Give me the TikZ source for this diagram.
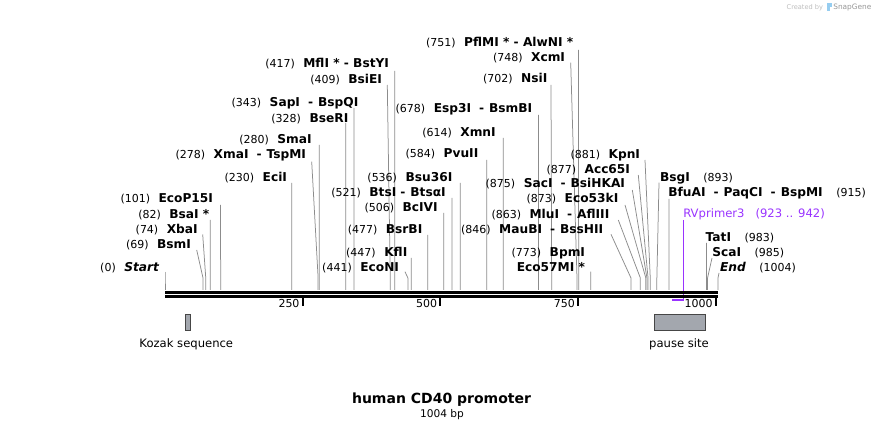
\documentclass[tikz,border=0pt]{standalone}
\usepackage{fontspec}
\setmainfont{DejaVu Sans}
\usetikzlibrary{calc}
\definecolor{cutgray}{RGB}{140,140,140}
\definecolor{primer}{RGB}{153,51,255}
\definecolor{featfill}{RGB}{163,167,174}
\definecolor{featdraw}{RGB}{70,70,70}
\definecolor{wmgray}{RGB}{190,190,190}
\definecolor{wmblue}{RGB}{150,205,240}
\newcommand\numf{\fontsize{11}{13}\selectfont\mdseries\upshape}
\newcommand\enzf{\fontsize{12.2}{14}\selectfont\bfseries}
\newcommand\rvf{\fontsize{11.6}{14}\selectfont\mdseries}
\newcommand\hy{\hspace{8pt}-\hspace{5pt}}
\newcommand\hs{\hspace{4pt}-\hspace{5pt}}
\newcommand\LLab[5]{\node[lbl,anchor=base east] (#1) at (#2,{#3+4.4}) {{\numf(#4)}\hspace{8.5pt}{\enzf #5}};}
\newcommand\RLab[5]{\node[lbl,anchor=base west] (#1) at (#2,{#3+4.4}) {{\enzf #5}\hspace{13.5pt}{\numf(#4)}};}
\newcommand\Cut[4]{%
  \coordinate (t-#1) at (#2,#3);
  \coordinate (k-#1) at ({165+#4*0.5508},278);
  \coordinate (s-#1) at ({165+#4*0.5508},290);
  \draw[cut] (t-#1) -- (k-#1) -- (s-#1);}
\tikzset{
  lbl/.style={inner sep=0pt, outer sep=0pt},
  cut/.style={draw=cutgray, line width=0.75pt},
  tickmark/.style={draw=black, line width=2pt},
  ticklab/.style={inner sep=0pt, anchor=base east, font=\numf},
  feat/.style={fill=featfill, draw=featdraw, line width=0.9pt},
  featlab/.style={inner sep=0pt, anchor=base, font=\fontsize{11.6}{14}\selectfont}
}
\begin{document}
\begin{tikzpicture}[x=1pt,y=-1pt]
\path[use as bounding box, fill=white] (0,0) rectangle (884,430);

% watermark
\node[lbl, anchor=west, text=wmgray, font=\fontsize{6.6}{8}\selectfont] (wm1) at (786.7,7.5) {Created by};
\fill[wmblue] (826.5,3.5) rectangle (829.5,11.5);
\fill[wmblue] (829.5,3.5) rectangle (831.5,7);
\node[lbl, anchor=west, text=wmgray!80!black, font=\fontsize{7.4}{9}\selectfont] (wm2) at (833.3,7.5) {SnapGene};

% cut site connectors
\Cut{Start}{165}{272}{0}
\Cut{BsmI}{196.7}{250}{69}
\Cut{XbaI}{202.7}{234.5}{74}
\Cut{BsaI}{210.2}{220}{82}
\Cut{EcoP}{220.6}{205}{101}
\Cut{EciI}{291.7}{183}{230}
\Cut{XmaI}{311.7}{161.7}{278}
\Cut{SmaI}{319.2}{145}{280}
\Cut{BseRI}{345.7}{123}{328}
\Cut{SapI}{353.9}{108}{343}
\Cut{BsiEI}{387.3}{85}{409}
\Cut{MflI}{394.7}{71}{417}
\Cut{EcoNI}{405}{271.7}{441}
\Cut{KflI}{411.2}{258}{447}
\Cut{BsrBI}{427.7}{235}{477}
\Cut{BcIVI}{443.7}{213}{506}
\Cut{BtsI}{452}{198}{521}
\Cut{Bsu}{460.2}{183}{536}
\Cut{PvuII}{486.7}{160}{584}
\Cut{XmnI}{503.2}{138}{614}
\Cut{Esp}{538.4}{115}{678}
\Cut{NsiI}{551}{85}{702}
\Cut{XcmI}{570.7}{62.7}{748}
\Cut{PflMI}{578.5}{50}{751}
\Cut{BpmI}{590.8}{271.7}{773}
\Cut{MauBI}{611}{234.3}{846}
\Cut{MluI}{618.3}{220}{863}
\Cut{Eco53}{625}{205}{873}
\Cut{SacI}{632.3}{190}{875}
\Cut{Acc}{638.3}{175}{877}
\Cut{KpnI}{645}{160}{881}
\Cut{BsgI}{659}{182.7}{893}
\Cut{BfuAI}{669}{199}{915}
\Cut{TatI}{706.4}{243}{983}
\Cut{ScaI}{712}{258}{985}
\Cut{End}{719}{273}{1004}

% labels, left side
\LLab{Start}{159}{267}{0}{\itshape Start}
\LLab{BsmI}{191}{244}{69}{BsmI}
\LLab{XbaI}{197.7}{229}{74}{XbaI}
\LLab{BsaI}{209.3}{214}{82}{BsaI *}
\LLab{EcoP}{213}{198}{101}{EcoP15I}
\LLab{EciI}{287}{177}{230}{EciI}
\LLab{XmaI}{306}{154}{278}{XmaI\hy TspMI}
\LLab{SmaI}{311.7}{139.3}{280}{SmaI}
\LLab{BseRI}{348.3}{117.7}{328}{BseRI}
\LLab{SapI}{358.3}{102.3}{343}{SapI\hy BspQI}
\LLab{BsiEI}{382}{79.3}{409}{BsiEI}
\LLab{MflI}{389}{63.3}{417}{MflI * - BstYI}
\LLab{EcoNI}{399}{267.3}{441}{EcoNI}
\LLab{KflI}{407.3}{252.3}{447}{KflI}
\LLab{BsrBI}{422.3}{229}{477}{BsrBI}
\LLab{BcIVI}{437.7}{207}{506}{BcIVI}
\LLab{BtsI}{445.7}{191.7}{521}{BtsI\hs BtsαI}
\LLab{Bsu}{452.3}{176.7}{536}{Bsu36I}
\LLab{PvuII}{478.3}{153.3}{584}{PvuII}
\LLab{XmnI}{495.7}{131.7}{614}{XmnI}
\LLab{Esp}{532.3}{108.3}{678}{Esp3I\hy BsmBI}
\LLab{NsiI}{547.3}{78.3}{702}{NsiI}
\LLab{XcmI}{565}{56.7}{748}{XcmI}
\LLab{PflMI}{573.3}{41.7}{751}{PflMI * - AlwNI *}
\LLab{BpmI}{585}{251.7}{773}{BpmI}
\node[lbl,anchor=base east] (Eco57) at (585,271.1) {\enzf Eco57MI *};
\LLab{MauBI}{603.3}{229}{846}{MauBI\hy BssHII}
\LLab{MluI}{609.3}{213.7}{863}{MluI\hy AflIII}
\LLab{Eco53}{618.3}{198.3}{873}{Eco53kI}
\LLab{SacI}{625}{183.3}{875}{SacI\hy BsiHKAI}
\LLab{Acc}{630}{169}{877}{Acc65I}
\LLab{KpnI}{640}{154}{881}{KpnI}
% labels, right side
\RLab{BsgI}{660}{176.7}{893}{BsgI}
\RLab{BfuAI}{668.3}{191.7}{915}{BfuAI\hy PaqCI\hy BspMI}
\RLab{TatI}{705.7}{236.7}{983}{TatI}
\RLab{ScaI}{712.3}{251.7}{985}{ScaI}
\RLab{End}{720}{266.7}{1004}{\itshape End}

% primer
\node[lbl,anchor=base west,text=primer] (RV) at (683.3,217.8) {\rvf RVprimer3\hspace{11pt}(923 .. 942)};
\coordinate (pt) at (683.7,220);
\coordinate (p2) at (683.7,300.3);
\coordinate (p1) at (672,300.3);
\draw[primer, line width=1pt] (pt) -- (p2);
\draw[primer, line width=2pt] (p1) -- (p2);

% backbone
\coordinate (bbL) at (165,292.5);
\coordinate (bbR) at (718,292.5);
\coordinate (bbL2) at (165,296.4);
\coordinate (bbR2) at (718,296.4);
\draw[line width=3pt] (bbL) -- (bbR);
\draw[line width=2.5pt] (bbL2) -- (bbR2);

% ticks
\foreach \v/\n in {250/t250,500/t500,750/t750,1000/t1000}{
  \coordinate (\n a) at ({165+\v*0.5508},297);
  \coordinate (\n b) at ({165+\v*0.5508},306);
  \draw[tickmark] (\n a) -- (\n b);
  \node[ticklab] (\n l) at ({165+\v*0.5508-3},307.5) {\v};
}

% features
\draw[feat] (185.3,314.2) rectangle (190.5,330.6);
\node[featlab] (kozak) at (186.3,347.6) {Kozak sequence};
\draw[feat] (654.3,314.2) rectangle (705.4,330.6);
\node[featlab] (pause) at (679,347.6) {pause site};

% title
\node[lbl, anchor=base, font=\fontsize{14}{16}\selectfont\bfseries] (title) at (441.5,403.3) {human CD40 promoter};
\node[lbl, anchor=base, font=\fontsize{10.6}{12}\selectfont] (size) at (442,417.5) {1004 bp};
\end{tikzpicture}
\end{document}
